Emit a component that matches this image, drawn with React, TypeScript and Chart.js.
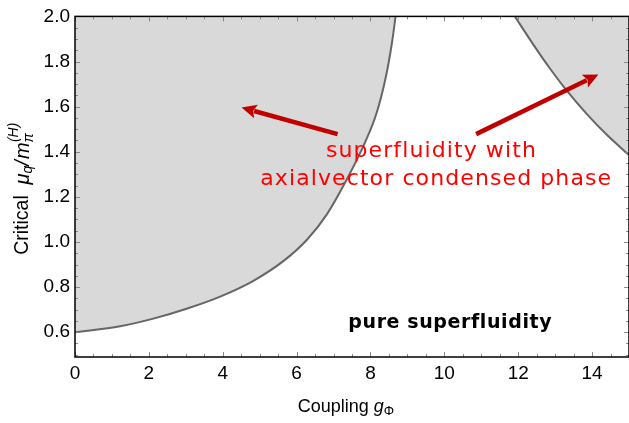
import React, { useEffect, useRef } from "react";
import { Chart, registerables } from "chart.js";

Chart.register(...registerables);

// ---- data ----
const xMin = 0;
const xMax = 15;
const yMin = 0.49;
const yMax = 2.0;
const xTickValues = [0, 2, 4, 6, 8, 10, 12, 14];
const yTickValues = [0.6, 0.8, 1.0, 1.2, 1.4, 1.6, 1.8, 2.0];

const leftCurveX = [0, 1.22, 2.12, 3.02, 3.93, 4.83, 5.64, 6.28, 6.81, 7.4, 7.85, 8.17, 8.42, 8.58, 8.68];
const leftCurveY = [0.6, 0.626, 0.66, 0.704, 0.758, 0.828, 0.915, 1.01, 1.12, 1.29, 1.44, 1.574, 1.735, 1.881, 2.0];

const rightCurveX = [11.91, 12.41, 12.86, 13.31, 13.86, 14.4, 15.0];
const rightCurveY = [2.0, 1.875, 1.769, 1.672, 1.567, 1.475, 1.385];

const labelTexts = ["superfluidity with", "axialvector condensed phase", "pure superfluidity"];
const labelX = [9.65, 9.78, 10.16];
const labelY = [1.4, 1.276, 0.64];
const labelColors = ["#ff0000", "#ff0000", "#000000"];
const labelBold = [false, false, true];

const arrowTailX = [7.11, 10.86];
const arrowTailY = [1.478, 1.478];
const arrowHeadX = [4.51, 14.17];
const arrowHeadY = [1.596, 1.742];

const FONT = "'Liberation Sans', Arial, sans-serif";
const LFONT = "'DejaVu Sans', sans-serif";

function drawRich(ctx: CanvasRenderingContext2D, segs: any[], cx: number, cy: number) {
  let total = 0;
  for (const s of segs) {
    ctx.font = s.font;
    total += ctx.measureText(s.t).width + (s.gap || 0);
  }
  let x = cx - total / 2;
  ctx.textBaseline = "middle";
  ctx.textAlign = "left";
  for (const s of segs) {
    ctx.font = s.font;
    ctx.fillText(s.t, x, cy + (s.dy || 0));
    x += ctx.measureText(s.t).width + (s.gap || 0);
  }
}

const decorPlugin = {
  id: "decor",
  afterDatasetsDraw(chart: any) {
    const ctx: any = chart.ctx;
    const { left, right, top, bottom } = chart.chartArea;
    const xs = chart.scales.x;
    const ys = chart.scales.y;
    ctx.save();
    // inward ticks
    ctx.strokeStyle = "#8a8a8a";
    ctx.lineWidth = 1;
    for (let v = xMin; v <= xMax + 1e-9; v += 0.5) {
      const major = Math.abs(v / 2 - Math.round(v / 2)) < 1e-6;
      const len = major ? 5 : 3;
      const px = Math.round(xs.getPixelForValue(v)) + 0.5;
      ctx.beginPath();
      ctx.moveTo(px, bottom);
      ctx.lineTo(px, bottom - len);
      ctx.moveTo(px, top);
      ctx.lineTo(px, top + len);
      ctx.stroke();
    }
    for (let v = 0.5; v <= yMax + 1e-9; v += 0.05) {
      if (v < yMin) continue;
      const major = Math.abs(v / 0.2 - Math.round(v / 0.2)) < 1e-6;
      const len = major ? 5 : 3;
      const py = Math.round(ys.getPixelForValue(v)) + 0.5;
      ctx.beginPath();
      ctx.moveTo(left, py);
      ctx.lineTo(left + len, py);
      ctx.moveTo(right, py);
      ctx.lineTo(right - len, py);
      ctx.stroke();
    }
    // frame
    ctx.strokeStyle = "#000";
    ctx.lineWidth = 1.5;
    ctx.strokeRect(left, top, right - left, bottom - top);

    // arrows
    ctx.fillStyle = "#c00000";
    ctx.strokeStyle = "#c00000";
    for (let i = 0; i < arrowTailX.length; i++) {
      const tx = xs.getPixelForValue(arrowTailX[i]);
      const ty = ys.getPixelForValue(arrowTailY[i]);
      const hx = xs.getPixelForValue(arrowHeadX[i]);
      const hy = ys.getPixelForValue(arrowHeadY[i]);
      const dx = hx - tx;
      const dy = hy - ty;
      const L = Math.hypot(dx, dy);
      const ux = dx / L;
      const uy = dy / L;
      const hl = 15;
      const hw = 7;
      ctx.lineWidth = 4.5;
      ctx.beginPath();
      ctx.moveTo(tx, ty);
      ctx.lineTo(hx - ux * (hl - 2), hy - uy * (hl - 2));
      ctx.stroke();
      ctx.beginPath();
      ctx.moveTo(hx, hy);
      ctx.lineTo(hx - ux * hl - uy * hw, hy - uy * hl + ux * hw);
      ctx.lineTo(hx - ux * hl * 0.8, hy - uy * hl * 0.8);
      ctx.lineTo(hx - ux * hl + uy * hw, hy - uy * hl - ux * hw);
      ctx.closePath();
      ctx.fill();
    }

    // labels
    ctx.textAlign = "center";
    ctx.textBaseline = "middle";
    for (let i = 0; i < labelTexts.length; i++) {
      ctx.font = labelBold[i] ? "bold 19px " + LFONT : "22px " + LFONT;
      ctx.letterSpacing = labelBold[i] ? "0.6px" : "1.1px";
      ctx.fillStyle = labelColors[i];
      ctx.fillText(labelTexts[i], xs.getPixelForValue(labelX[i]), ys.getPixelForValue(labelY[i]));
    }
    ctx.letterSpacing = "0px";

    // axis titles
    ctx.fillStyle = "#000";
    drawRich(
      ctx,
      [
        { t: "Coupling ", font: "18px " + FONT },
        { t: "g", font: "italic 18px " + FONT },
        { t: "Φ", font: "13px " + FONT, dy: 4 },
      ],
      (left + right) / 2 - 6,
      407
    );
    ctx.save();
    ctx.translate(23, (top + bottom) / 2 + 2);
    ctx.rotate(-Math.PI / 2);
    drawRich(
      ctx,
      [
        { t: "Critical  ", font: "19.5px " + FONT },
        { t: "μ", font: "italic 20px " + FONT },
        { t: "q", font: "italic 14px " + FONT, dy: 5 },
        { t: "/", font: "italic 20px " + FONT, gap: 1 },
        { t: "m", font: "italic 20px " + FONT },
        { t: "π", font: "italic 14px " + FONT, dy: 6, gap: -9 },
        { t: "(H)", font: "italic 14px " + FONT, dy: -9 },
      ],
      0,
      0
    );
    ctx.restore();
    ctx.restore();
  },
};

export default function App() {
  const ref = useRef<HTMLCanvasElement | null>(null);
  useEffect(() => {
    if (!ref.current) return;
    const chart = new Chart(ref.current, {
      type: "line",
      data: {
        datasets: [
          {
            data: leftCurveX.map((x, i) => ({ x, y: leftCurveY[i] })),
            borderColor: "#666666",
            borderWidth: 2,
            backgroundColor: "#d9d9d9",
            fill: "end",
            pointRadius: 0,
            cubicInterpolationMode: "monotone",
          },
          {
            data: rightCurveX.map((x, i) => ({ x, y: rightCurveY[i] })),
            borderColor: "#666666",
            borderWidth: 2,
            backgroundColor: "#d9d9d9",
            fill: "end",
            pointRadius: 0,
            cubicInterpolationMode: "monotone",
          },
        ],
      },
      options: {
        animation: false,
        responsive: false,
        devicePixelRatio: 1,
        layout: { padding: { top: 13, right: 0, left: 0, bottom: 0 } },
        plugins: { legend: { display: false }, tooltip: { enabled: false } },
        scales: {
          x: {
            type: "linear",
            min: xMin,
            max: xMax,
            grid: { display: false, drawTicks: false },
            border: { display: false },
            afterBuildTicks: (s: any) => {
              s.ticks = xTickValues.map((v) => ({ value: v }));
            },
            afterFit: (s: any) => {
              s.height = 66;
            },
            ticks: {
              padding: 5,
              maxRotation: 0,
              autoSkip: false,
              color: "#000",
              font: { family: FONT, size: 19 },
              callback: (v: any) => String(v),
            },
          },
          y: {
            type: "linear",
            min: yMin,
            max: yMax,
            grid: { display: false, drawTicks: false },
            border: { display: false },
            afterBuildTicks: (s: any) => {
              s.ticks = yTickValues.map((v) => ({ value: v }));
            },
            afterFit: (s: any) => {
              s.width = 75;
            },
            ticks: {
              padding: 5,
              autoSkip: false,
              color: "#000",
              font: { family: FONT, size: 19 },
              callback: (v: any) => Number(v).toFixed(1),
            },
          },
        },
      },
      plugins: [decorPlugin],
    } as any);
    return () => chart.destroy();
  }, []);
  return (
    <canvas
      ref={ref}
      width={629}
      height={423}
      style={{ position: "absolute", left: 0, top: 0, width: 629, height: 423 }}
    />
  );
}
